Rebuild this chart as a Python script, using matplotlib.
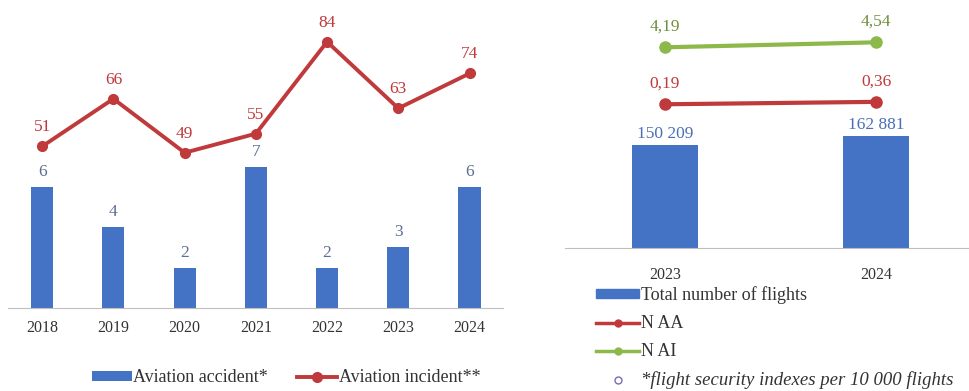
import matplotlib
matplotlib.use("Agg")
import matplotlib.pyplot as plt
from matplotlib.lines import Line2D
from matplotlib.patches import Patch

plt.rcParams['font.family'] = ['Liberation Serif', 'DejaVu Serif']

years = ["2018", "2019", "2020", "2021", "2022", "2023", "2024"]
accidents = [6, 4, 2, 7, 2, 3, 6]
incidents = [51, 66, 49, 55, 84, 63, 74]

years_r = ["2023", "2024"]
flights = [150209, 162881]
flight_labels = ["150 209", "162 881"]
n_aa = [0.19, 0.36]
n_ai = [4.19, 4.54]

BLUE = "#4472C4"
RED = "#C0393B"
GREEN = "#8DB84A"
GRAY = "#5B6F93"
TXT = "#333333"

LBL = 12.5
TICK = 11.5
LEG = 13

W, H = 969, 391
fig = plt.figure(figsize=(W / 100, H / 100), dpi=100)

def px_axes(x0, y0, x1, y1):
    return fig.add_axes([x0 / W, 1 - y1 / H, (x1 - x0) / W, (y1 - y0) / H])

# ---------- left chart ----------
ax = px_axes(8, 5, 503, 308)
xs = list(range(len(years)))
ax.bar(xs, accidents, width=0.31, color=BLUE, zorder=2, label="Aviation accident*")
ax.set_xlim(-0.48, 6.47)
ax.set_ylim(0, 15)
for x, v in zip(xs, accidents):
    ax.annotate(str(v), (x, v), xytext=(0, 5), textcoords="offset points",
                ha="center", va="bottom", fontsize=LBL, color=GRAY)
ax2 = ax.twinx()
ax2.plot(xs, incidents, color=RED, lw=2.8, marker="o", ms=7, zorder=3,
         label="Aviation incident**")
ax2.set_ylim(0, 95.6)
for x, v in zip(xs, incidents):
    ax2.annotate(str(v), (x, v), xytext=(0, 8), textcoords="offset points",
                 ha="center", va="bottom", fontsize=LBL, color=RED)
for a in (ax, ax2):
    for s in a.spines.values():
        s.set_visible(False)
    a.set_yticks([])
ax.spines['bottom'].set_visible(True)
ax.spines['bottom'].set_color("#BFBFBF")
ax.set_xticks(xs)
ax.set_xticklabels(years, fontsize=TICK, color=TXT)
ax.tick_params(axis='x', length=0, pad=9)

h1, l1 = ax.get_legend_handles_labels()
h2, l2 = ax2.get_legend_handles_labels()
fig.legend(h1 + h2, l1 + l2, loc="center", bbox_to_anchor=(286 / W, 1 - 378 / H),
           ncol=2, frameon=False, fontsize=LEG, handlelength=2.2, handleheight=0.4,
           columnspacing=1.6, handletextpad=0.1, labelcolor=TXT)

# ---------- right chart ----------
bx = px_axes(565, 5, 969, 248)
xr = [0, 1]
bx.bar(xr, flights, width=0.313, color=BLUE, zorder=2)
bx.set_xlim(-0.474, 1.44)
bx.set_ylim(0, 354000)
for x, v, lab in zip(xr, flights, flight_labels):
    bx.annotate(lab, (x, v), xytext=(0, 2), textcoords="offset points",
                ha="center", va="bottom", fontsize=LBL, color="#4A6FB5")
bx2 = bx.twinx()
bx2.plot(xr, n_aa, color=RED, lw=3, marker="o", ms=8, zorder=3)
bx2.plot(xr, n_ai, color=GREEN, lw=3, marker="o", ms=8, zorder=3)
bx2.set_ylim(-9.9, 7.16)
for x, v in zip(xr, n_aa):
    bx2.annotate(f"{v:.2f}".replace(".", ","), (x, v), xytext=(0, 9),
                 textcoords="offset points", ha="center", va="bottom",
                 fontsize=LBL, color=RED)
for x, v in zip(xr, n_ai):
    bx2.annotate(f"{v:.2f}".replace(".", ","), (x, v), xytext=(0, 9),
                 textcoords="offset points", ha="center", va="bottom",
                 fontsize=LBL, color="#6E8F3A")
for a in (bx, bx2):
    for s in a.spines.values():
        s.set_visible(False)
    a.set_yticks([])
bx.spines['bottom'].set_visible(True)
bx.spines['bottom'].set_color("#BFBFBF")
bx.set_xticks(xr)
bx.set_xticklabels(years_r, fontsize=TICK, color=TXT)
bx.tick_params(axis='x', length=0, pad=14)

handles = [
    Patch(facecolor=BLUE, edgecolor=BLUE),
    Line2D([], [], color=RED, lw=2.5, marker="o", ms=5),
    Line2D([], [], color=GREEN, lw=2.5, marker="o", ms=5),
    Line2D([], [], color="none", marker="o", ms=5, mfc="none", mec="#7B68B8"),
]
labels = ["Total number of flights", "N AA", "N AI",
          "*flight security indexes per 10 000 flights"]
leg = fig.legend(handles, labels, loc="upper left",
                 bbox_to_anchor=(596 / W, 1 - 286 / H), frameon=False,
                 fontsize=LEG, handlelength=2.4, handleheight=0.4,
                 handletextpad=0.1, labelspacing=0.62, labelcolor=TXT,
                 borderaxespad=0, borderpad=0)
leg.get_texts()[3].set_style("italic")
leg.get_texts()[3].set_fontsize(13.5)

fig.savefig("out.png", dpi=100)
